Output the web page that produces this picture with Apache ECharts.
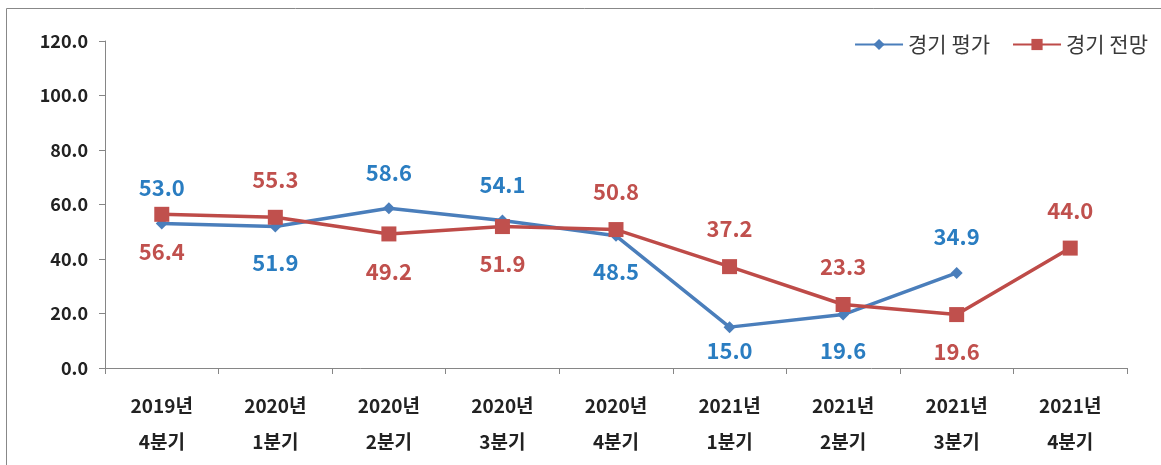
<!DOCTYPE html>
<html><head><meta charset="utf-8">
<script src="https://cdn.jsdelivr.net/npm/echarts@6/dist/echarts.min.js"></script>
<style>html,body{margin:0;padding:0;background:#fff}#c{width:1161px;height:465px}</style>
</head><body><div id="c"></div>
<script>
const categories = ['2019년\n4분기','2020년\n1분기','2020년\n2분기','2020년\n3분기','2020년\n4분기','2021년\n1분기','2021년\n2분기','2021년\n3분기','2021년\n4분기'];
const evalValues = [53.0, 51.9, 58.6, 54.1, 48.5, 15.0, 19.6, 34.9, null];
const outlookValues = [56.4, 55.3, 49.2, 51.9, 50.8, 37.2, 23.3, 19.6, 44.0];
const seriesNames = ['경기 평가','경기 전망'];

const font = '"Noto Sans CJK KR", "Noto Sans", sans-serif';
const evalLabelPos = ['top','bottom','top','top','bottom','bottom','bottom','top','top'];
const outlookLabelPos = ['bottom','top','bottom','bottom','top','top','top','bottom','top'];
function mkData(vals, pos, tight) {
  return vals.map((v, i) => ({
    value: v,
    label: { position: pos[i], distance: tight === i ? 7 : 19 }
  }));
}
const chart = echarts.init(document.getElementById('c'));
chart.setOption({
  animation: false,
  graphic: [{ type: 'rect', shape: { x: 6.5, y: 8.5, width: 1170, height: 470 }, style: { fill: 'none', stroke: '#888', lineWidth: 1 } }],
  legend: {
    right: 8, top: 29, itemGap: 22, itemWidth: 48, itemHeight: 14,
    textStyle: { fontFamily: font, fontSize: 21, color: '#3a3a3a' },
    data: seriesNames
  },
  grid: { left: 105, right: 34, top: 41, bottom: 97 },
  xAxis: {
    type: 'category', data: categories, boundaryGap: true,
    axisLine: { lineStyle: { color: '#868686', width: 1 } },
    axisTick: { show: true, length: 6, lineStyle: { color: '#868686' } },
    axisLabel: { fontFamily: font, fontWeight: 'bold', fontSize: 19, color: '#222', lineHeight: 36, margin: 20, interval: 0 }
  },
  yAxis: {
    type: 'value', min: 0, max: 120, interval: 20,
    splitLine: { show: false },
    axisLine: { show: true, lineStyle: { color: '#868686', width: 1 } },
    axisTick: { show: true, length: 6, lineStyle: { color: '#868686' } },
    axisLabel: { fontFamily: font, fontWeight: 'bold', fontSize: 18, color: '#222', margin: 17, formatter: v => v.toFixed(1) }
  },
  series: [
    {
      name: seriesNames[0], type: 'line', data: mkData(evalValues, evalLabelPos, 5),
      symbol: 'diamond', symbolSize: 12, showAllSymbol: true,
      lineStyle: { color: '#4a7ebb', width: 3.5 },
      itemStyle: { color: '#4a7ebb' },
      label: { show: true, fontFamily: font, fontWeight: 'bold', fontSize: 22, color: '#2a7dc1', formatter: p => p.value == null ? '' : Number(p.value).toFixed(1) },
      z: 3
    },
    {
      name: seriesNames[1], type: 'line', data: mkData(outlookValues, outlookLabelPos, -1),
      symbol: 'rect', symbolSize: 15, showAllSymbol: true,
      lineStyle: { color: '#be4b48', width: 3.5 },
      itemStyle: { color: '#c0504d' },
      label: { show: true, fontFamily: font, fontWeight: 'bold', fontSize: 22, color: '#c0504d', formatter: p => Number(p.value).toFixed(1) },
      z: 4
    }
  ]
});
</script></body></html>
